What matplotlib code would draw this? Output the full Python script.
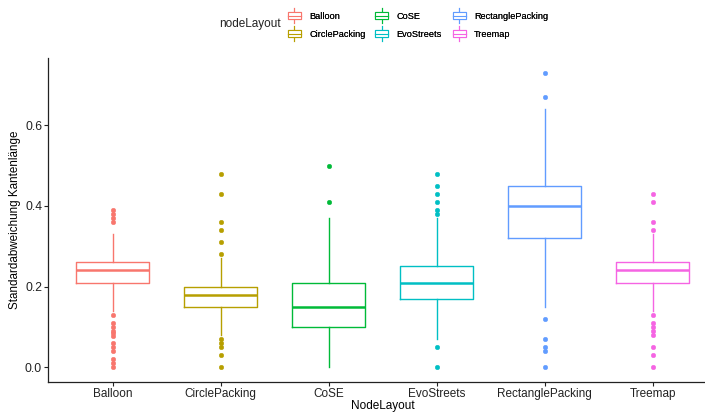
import matplotlib
matplotlib.use("Agg")
import matplotlib.pyplot as plt
from matplotlib.legend_handler import HandlerBase
from matplotlib.lines import Line2D
from matplotlib.patches import Rectangle, Patch

plt.rcParams['font.family'] = ['Liberation Sans', 'DejaVu Sans']

categories = ["Balloon", "CirclePacking", "CoSE", "EvoStreets", "RectanglePacking", "Treemap"]
colors = ["#F8766D", "#B79F00", "#00BA38", "#00BFC4", "#619CFF", "#F564E3"]

q1 = [0.21, 0.15, 0.10, 0.17, 0.32, 0.21]
median = [0.24, 0.18, 0.15, 0.21, 0.40, 0.24]
q3 = [0.26, 0.20, 0.21, 0.25, 0.45, 0.26]
whisker_low = [0.14, 0.08, 0.00, 0.07, 0.15, 0.14]
whisker_high = [0.33, 0.27, 0.37, 0.37, 0.64, 0.33]
outliers = [
    [0.36, 0.37, 0.38, 0.39, 0.13, 0.11, 0.10, 0.09, 0.086, 0.078, 0.06, 0.05, 0.04, 0.02, 0.01, 0.00],
    [0.48, 0.43, 0.36, 0.34, 0.31, 0.28, 0.07, 0.06, 0.05, 0.03, 0.00],
    [0.50, 0.41],
    [0.48, 0.45, 0.43, 0.41, 0.39, 0.38, 0.05, 0.00],
    [0.73, 0.67, 0.12, 0.07, 0.05, 0.04, 0.00],
    [0.43, 0.41, 0.36, 0.34, 0.13, 0.11, 0.10, 0.09, 0.08, 0.05, 0.03, 0.00],
]
y_ticks = [0.0, 0.2, 0.4, 0.6]
y_tick_labels = ["0.0", "0.2", "0.4", "0.6"]

W, H = 705, 412
fig = plt.figure(figsize=(W / 100, H / 100), dpi=100)
ax_left, ax_right = 48.0, 717.5
ax = fig.add_axes([ax_left / W, 30 / H, (ax_right - ax_left) / W, (382 - 58) / H])

stats = []
for i, c in enumerate(categories):
    stats.append(dict(label=c, med=median[i], q1=q1[i], q3=q3[i],
                      whislo=whisker_low[i], whishi=whisker_high[i],
                      fliers=outliers[i]))

positions = list(range(len(categories)))
bp = ax.bxp(stats, positions=positions, widths=0.675, showcaps=False,
            patch_artist=False, manage_ticks=False)
for i, col in enumerate(colors):
    bp['boxes'][i].set(color=col, linewidth=1.0)
    bp['medians'][i].set(color=col, linewidth=1.8)
    for w in bp['whiskers'][2 * i:2 * i + 2]:
        w.set(color=col, linewidth=1.0)
    bp['fliers'][i].set(marker='o', markerfacecolor=col, markeredgecolor=col,
                        markersize=3.3, markeredgewidth=0.3, linestyle='none')

ax.set_xlim(-0.6, 5.6)
ax.set_ylim(-0.0365, 0.7665)
ax.set_xticks(positions)
ax.set_xticklabels(categories)
ax.set_yticks(y_ticks)
ax.set_yticklabels(y_tick_labels)
for s in ['top', 'right']:
    ax.spines[s].set_visible(False)
for s in ['left', 'bottom']:
    ax.spines[s].set_linewidth(0.9)
    ax.spines[s].set_color('#222222')
ax.tick_params(axis='both', length=2.8, width=0.8, color='#222222',
               labelsize=8.5, labelcolor='#222222')
ax.tick_params(axis='y', labelsize=8.7, pad=1.5)
ax.tick_params(axis='x', pad=1.2)
ax.set_xlabel("NodeLayout", fontsize=8.5, labelpad=0)
ax.set_ylabel("Standardabweichung Kantenlänge", fontsize=8.4)
ax.yaxis.set_label_coords((21 - ax_left) / (ax_right - ax_left), 0.5)


class BoxHandler(HandlerBase):
    def create_artists(self, legend, orig_handle, xdescent, ydescent,
                       width, height, fontsize, trans):
        col = orig_handle.get_edgecolor()
        cx = width / 2 - xdescent
        cy = height / 2 - ydescent
        bw, bh, lh = 9.1, 5.0, 10.8
        line = Line2D([cx, cx], [cy - lh / 2, cy + lh / 2], color=col, lw=0.8,
                      transform=trans)
        rect = Rectangle((cx - bw / 2, cy - bh / 2), bw, bh, facecolor='white',
                         edgecolor=col, lw=0.8, transform=trans)
        med = Line2D([cx - bw / 2, cx + bw / 2], [cy, cy], color=col, lw=0.8,
                     transform=trans)
        return [line, rect, med]


handles = [Patch(edgecolor=c, facecolor='white', label=l) for c, l in zip(colors, categories)]
col_lefts = [288.0, 375.3, 453.0]
for k, xl in enumerate(col_lefts):
    hs = handles[2 * k:2 * k + 2]
    leg = fig.legend(handles=hs, labels=[h.get_label() for h in hs], ncol=1,
                     loc='upper left', bbox_to_anchor=(xl / W, 1 - 12.0 / H),
                     frameon=False, fontsize=6.6, handlelength=1.38,
                     handleheight=0.7, handletextpad=0.94, labelspacing=1.0,
                     borderpad=0, borderaxespad=0,
                     handler_map={Patch: BoxHandler()})
    fig.add_artist(leg)

fig.text(219 / W, 1 - 24.3 / H, "nodeLayout", fontsize=8.5, va='center', ha='left',
         color='#222222')

fig.savefig("out.png", dpi=100)
